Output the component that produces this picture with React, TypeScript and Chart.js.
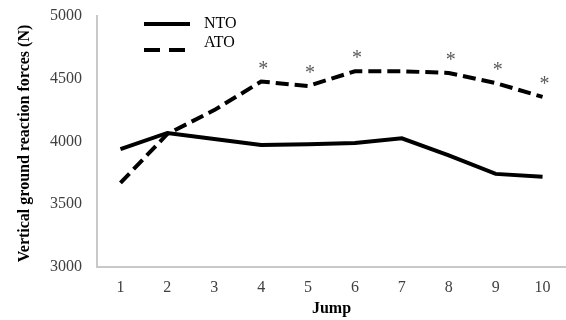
import React, { useEffect, useRef } from "react";
import { Chart, registerables } from "chart.js";

Chart.register(...registerables);

const jumps = ["1", "2", "3", "4", "5", "6", "7", "8", "9", "10"];
const ntoValues = [3940, 4068, 4020, 3972, 3978, 3988, 4025, 3890, 3742, 3720];
const atoValues = [3670, 4060, 4250, 4478, 4442, 4560, 4560, 4546, 4466, 4355];
const significant = [false, false, false, true, true, true, false, true, true, true];
const yTicks = [3000, 3500, 4000, 4500, 5000];
const seriesNames = ["NTO", "ATO"];

const SERIF = '"Liberation Serif", "Times New Roman", serif';

const overlayPlugin = {
  id: "overlay",
  afterDatasetsDraw(chart: any) {
    const ctx = chart.ctx as CanvasRenderingContext2D;
    const area = chart.chartArea;
    ctx.save();
    // asterisks
    const meta = chart.getDatasetMeta(1);
    ctx.fillStyle = "#595959";
    ctx.font = `20px ${SERIF}`;
    ctx.textAlign = "center";
    ctx.textBaseline = "alphabetic";
    meta.data.forEach((pt: any, i: number) => {
      if (significant[i]) ctx.fillText("*", pt.x + 2, pt.y - 7);
    });
    // legend
    ctx.strokeStyle = "#000";
    ctx.lineWidth = 4;
    ctx.beginPath();
    ctx.moveTo(144, 24);
    ctx.lineTo(190, 24);
    ctx.stroke();
    ctx.setLineDash([16, 9]);
    ctx.beginPath();
    ctx.moveTo(144, 50);
    ctx.lineTo(190, 50);
    ctx.stroke();
    ctx.setLineDash([]);
    ctx.fillStyle = "#000";
    ctx.font = `16px ${SERIF}`;
    ctx.textAlign = "left";
    ctx.textBaseline = "middle";
    ctx.fillText(seriesNames[0], 204, 24);
    ctx.fillText(seriesNames[1], 204, 43);
    // titles
    ctx.font = `bold 16px ${SERIF}`;
    ctx.textAlign = "center";
    ctx.fillText("Jump", (area.left + area.right) / 2, 309);
    ctx.translate(25, (area.top + area.bottom) / 2 + 2);
    ctx.rotate(-Math.PI / 2);
    ctx.fillText("Vertical ground reaction forces (N)", 0, 0);
    ctx.restore();
  },
};

export default function App() {
  const ref = useRef<HTMLCanvasElement>(null);
  useEffect(() => {
    if (!ref.current) return;
    const chart = new Chart(ref.current, {
      type: "line",
      data: {
        labels: jumps,
        datasets: [
          {
            label: seriesNames[0],
            data: ntoValues,
            borderColor: "#000",
            borderWidth: 4,
            pointRadius: 0,
            tension: 0,
          },
          {
            label: seriesNames[1],
            data: atoValues,
            borderColor: "#000",
            borderWidth: 4,
            borderDash: [13, 6],
            pointRadius: 0,
            tension: 0,
          },
        ],
      },
      options: {
        animation: false,
        responsive: false,
        layout: { padding: { top: 16, right: 0, left: 0, bottom: 0 } },
        plugins: { legend: { display: false }, tooltip: { enabled: false } },
        scales: {
          x: {
            offset: true,
            grid: { display: false, drawTicks: false },
            border: { color: "#c8c8c8", width: 2 },
            ticks: { color: "#404040", font: { family: SERIF, size: 16 }, padding: 11, maxRotation: 0 },
            afterFit: (s: any) => { s.height = 53; s.paddingLeft = 0; s.paddingRight = 0; },
          },
          y: {
            min: 3000,
            max: 5000,
            afterBuildTicks: (s: any) => { s.ticks = yTicks.map((v) => ({ value: v })); },
            grid: { display: false, drawTicks: false },
            border: { color: "#c8c8c8", width: 2 },
            ticks: {
              color: "#404040",
              font: { family: SERIF, size: 16 },
              padding: 15,
              callback: (v: any) => String(v),
            },
            afterFit: (s: any) => { s.width = 97; s.paddingTop = 0; s.paddingBottom = 0; },
          },
        },
      },
      plugins: [overlayPlugin],
    });
    return () => chart.destroy();
  }, []);
  return (
    <div style={{ position: "fixed", left: 0, top: 0, width: 566, height: 320, background: "#fff" }}>
      <canvas ref={ref} width={566} height={320} style={{ display: "block" }} />
    </div>
  );
}
